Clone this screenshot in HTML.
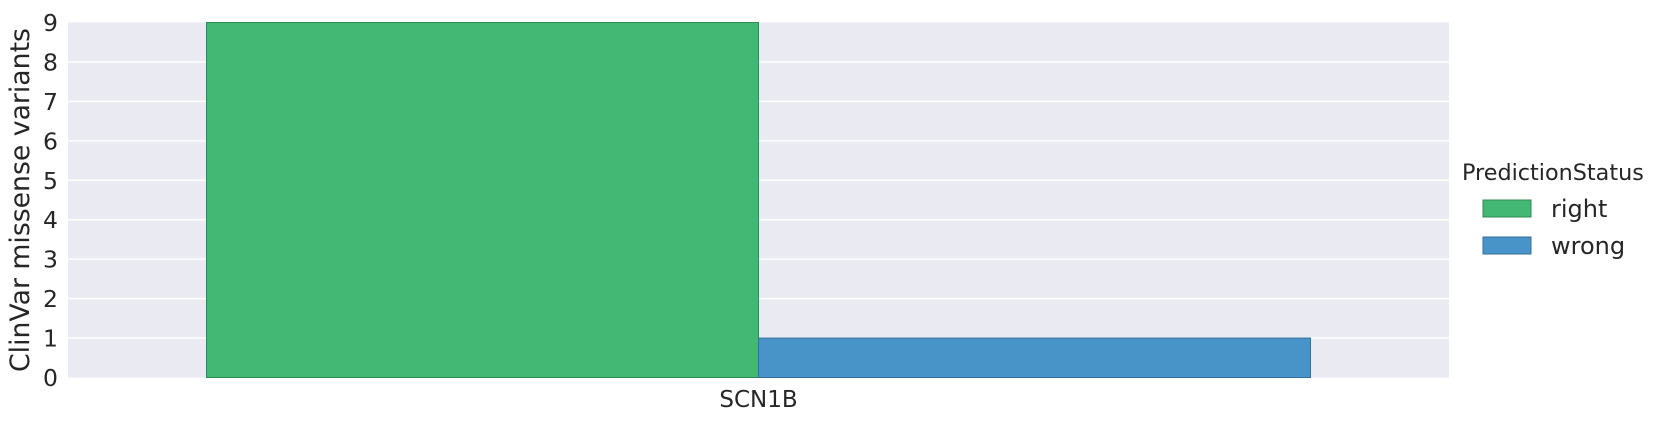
<!DOCTYPE html>
<html><head><meta charset="utf-8"><style>
html,body{margin:0;padding:0;background:#fff;width:1669px;height:422px;overflow:hidden}
text{font-family:"DejaVu Sans","Liberation Sans",sans-serif;fill:#262626}
</style></head><body>
<svg id="chart" width="1669" height="422" viewBox="0 0 1669 422" xmlns="http://www.w3.org/2000/svg">
<rect x="68" y="22.5" width="1381" height="355" fill="#eaeaf2"/>
<g id="grid"></g>
<g id="yticks"></g>
<g id="bars"></g>
<g id="xticks"></g>
<text transform="translate(29,200) rotate(-90)" text-anchor="middle" font-size="26.7">ClinVar missense variants</text>
<g>
<text x="1462" y="180" font-size="22.3">PredictionStatus</text>
<g id="legend-entries"></g>
</g>
</svg>
<script>
const categories = ["SCN1B"];
const seriesNames = ["right", "wrong"];
const rightValues = [9];
const wrongValues = [1];
const yTicks = [0,1,2,3,4,5,6,7,8,9];
const colors = ["#43b875", "#4893c7"];
const strokes = ["#2f8a55", "#356e96"];

const NS = "http://www.w3.org/2000/svg";
const L = 68, R = 1449, T = 22.5, B = 377.5, yMax = 9;
const y = v => B - (v / yMax) * (B - T);
const band = (R - L) / categories.length;
const xCenter = i => L + band * (i + 0.5);
const barW = 552;
function mk(tag, attrs, parent, txt) {
  const e = document.createElementNS(NS, tag);
  for (const k in attrs) e.setAttribute(k, attrs[k]);
  if (txt !== undefined) e.textContent = txt;
  parent.appendChild(e);
  return e;
}
const grid = document.getElementById('grid');
const yt = document.getElementById('yticks');
yTicks.forEach(t => {
  if (t > 0 && t < yMax) {
    const g = mk('line', {x1: L, x2: R, y1: y(t), y2: y(t), stroke: '#fff', 'stroke-width': 1.5}, grid);
    
    
  }
  const lb = mk('text', {x: 58, y: y(t) + 8.5, 'text-anchor': 'end', 'font-size': 23.5}, yt, String(t));
  
  
});
const bars = document.getElementById('bars');
const xt = document.getElementById('xticks');
const series = [rightValues, wrongValues];
categories.forEach((c, i) => {
  series.forEach((vals, s) => {
    const x0 = xCenter(i) - barW + s * barW;
    const r = mk('rect', {x: x0, y: y(vals[i]), width: barW, height: B - y(vals[i]), fill: colors[s], stroke: strokes[s], 'stroke-width': 1}, bars);
    
    
  });
  const lb = mk('text', {x: xCenter(i), y: 407, 'text-anchor': 'middle', 'font-size': 23}, xt, c);
  
  
});
const le = document.getElementById('legend-entries');
seriesNames.forEach((n, s) => {
  const py = 200 + s * 37;
  const p = mk('rect', {x: 1483, y: py, width: 48, height: 17, fill: colors[s], stroke: strokes[s], 'stroke-width': 1}, le);
  
  
  const t = mk('text', {x: 1551, y: py + 17, 'font-size': 24}, le, n);
  
  
});
</script>
</body></html>
